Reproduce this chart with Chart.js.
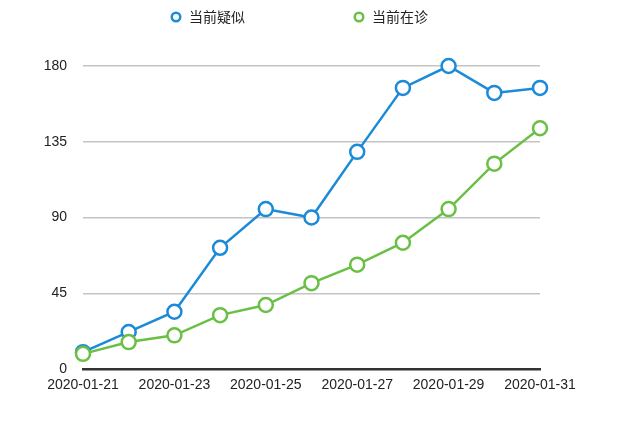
<!DOCTYPE html>
<html>
<head>
<meta charset="utf-8">
<script src="https://cdn.jsdelivr.net/npm/chart.js@4"></script>
<style>
  html, body { margin: 0; padding: 0; background: #fff; }
  #wrap { width: 622px; height: 428px; }
</style>
</head>
<body>
<div id="wrap"><canvas id="chart" width="622" height="428"></canvas></div>
<script>
const dates = ['2020-01-21', '2020-01-22', '2020-01-23', '2020-01-24', '2020-01-25', '2020-01-26',
	'2020-01-27', '2020-01-28', '2020-01-29', '2020-01-30', '2020-01-31'];
const suspected = [10, 22, 34, 72, 95, 90, 129, 167, 180, 164, 167];
const treating = [9, 16, 20, 32, 38, 51, 62, 75, 95, 122, 143];
const yTicks = [0, 45, 90, 135, 180];

const BLUE = '#1b8ad8';
const GREEN = '#6abf45';

// legend gets extra room below it, so the plot starts lower,
// and is nudged right to sit over the plot like the original
const legendSpace = {
	id: 'legendSpace',
	beforeInit(chart) {
		const origFit = chart.legend.fit;
		chart.legend.fit = function () {
			origFit.bind(chart.legend)();
			this.height = 66;
		};
	},
	afterLayout(chart) {
		chart.legend.left += 29;
		chart.legend.right += 29;
	}
};

function series(label, values, color) {
	return {
		label: label,
		data: values,
		borderColor: color,
		backgroundColor: color,
		borderWidth: 2.5,
		pointRadius: 7,
		pointHoverRadius: 7,
		pointBorderWidth: 2.5,
		pointBorderColor: color,
		pointBackgroundColor: '#ffffff',
		tension: 0,
		clip: false
	};
}

const config = {
	type: 'line',
	data: {
		labels: dates,
		datasets: [
			series('当前在诊', treating, GREEN),
			series('当前疑似', suspected, BLUE)
		]
	},
	options: {
		responsive: false,
		animation: false,
		layout: {
			padding: {left: 0, right: 82, top: 0, bottom: 0}
		},
		plugins: {
			tooltip: {enabled: false},
			legend: {
				reverse: true,
				labels: {
					usePointStyle: true,
					pointStyle: 'circle',
					boxWidth: 12,
					boxHeight: 6,
					padding: 10,
					color: '#222',
					font: {family: '"Noto Sans CJK SC", sans-serif', size: 14},
					generateLabels(chart) {
						const items = Chart.defaults.plugins.legend.labels.generateLabels(chart);
						items.forEach(it => {
							if (it.datasetIndex === 1) it.text = it.text + '\u3000\u3000\u3000\u3000\u3000\u3000\u3000';
						});
						return items;
					}
				}
			}
		},
		scales: {
			x: {
				grid: {display: false, drawTicks: false},
				border: {display: true, color: '#333', width: 2.5},
				ticks: {
					autoSkip: false,
					maxRotation: 0,
					padding: 8,
					color: '#222',
					font: {family: '"Liberation Sans", Arial, sans-serif', size: 14},
					callback: function (val, i) {
						return i % 2 === 0 ? dates[i] : '';
					}
				},
				afterFit(scale) { scale.height = 59; }
			},
			y: {
				min: 0,
				max: 180,
				grid: {color: '#c4c4c4', lineWidth: 1.5, drawTicks: false},
				border: {display: false},
				afterBuildTicks(scale) { scale.ticks = yTicks.map(v => ({value: v})); },
				ticks: {
					padding: 16,
					color: '#222',
					font: {family: '"Liberation Sans", Arial, sans-serif', size: 14}
				},
				afterFit(scale) { scale.width = 83; }
			}
		}
	},
	plugins: [legendSpace]
};

new Chart(document.getElementById('chart'), config);
</script>
</body>
</html>
